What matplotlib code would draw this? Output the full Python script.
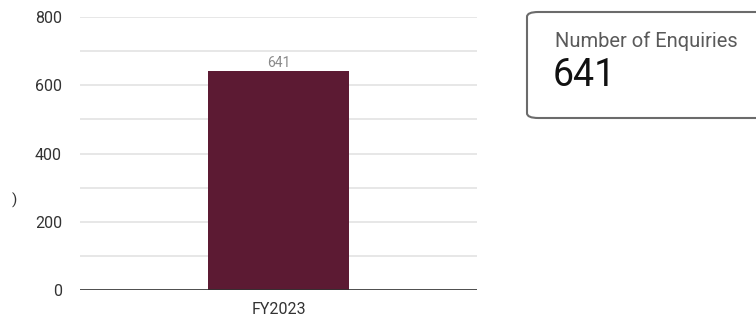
import matplotlib.pyplot as plt
from matplotlib.patches import FancyBboxPatch

# data
categories = ['FY2023']
enquiries = [641]
y_ticks = [0, 200, 400, 600, 800]
card_title = 'Number of Enquiries'
card_value = '641'

plt.rcParams['font.family'] = ['Roboto', 'DejaVu Sans']

fig = plt.figure(figsize=(7.56, 3.2), dpi=100)
ax = fig.add_axes([80 / 756, 30 / 320, 397 / 756, 273 / 320])

bars = ax.bar(categories, enquiries, width=0.355, color='#5c1a33', zorder=3)
ax.bar_label(bars, labels=[str(v) for v in enquiries], padding=1,
             fontsize=10, color='#8a8a8a')

ax.set_xlim(-0.5, 0.5)
ax.set_ylim(0, 800)
ax.set_yticks(y_ticks)
ax.set_yticks(range(100, 800, 200), minor=True)
ax.grid(True, axis='y', which='both', color='#e3e3e3', linewidth=1.2, zorder=0)
ax.axhline(0, color='#333333', linewidth=1.2, zorder=4)

for s in ax.spines.values():
    s.set_visible(False)
ax.tick_params(axis='both', which='both', length=0, labelsize=11.5, colors='#333333')
ax.tick_params(axis='y', pad=13)
ax.tick_params(axis='x', pad=9)

# cut-off axis title remnant
fig.text(14 / 756, 1 - 200 / 320, ')', fontsize=11, color='#333333',
         ha='center', va='center')

# scorecard
card = FancyBboxPatch((527 / 756, 1 - 118 / 320), 240 / 756, 106 / 320,
                      boxstyle='round,pad=0,rounding_size=0.015',
                      transform=fig.transFigure, facecolor='white',
                      edgecolor='#6b6b6b', linewidth=1.5, clip_on=False)
fig.patches.append(card)
fig.text(555 / 756, 1 - 41 / 320, card_title, fontsize=14.5, color='#5a5a5a',
         va='center', ha='left')
fig.text(553 / 756, 1 - 76 / 320, card_value, fontsize=27, color='#111111',
         va='center', ha='left')

fig.savefig('out.png', dpi=100)
